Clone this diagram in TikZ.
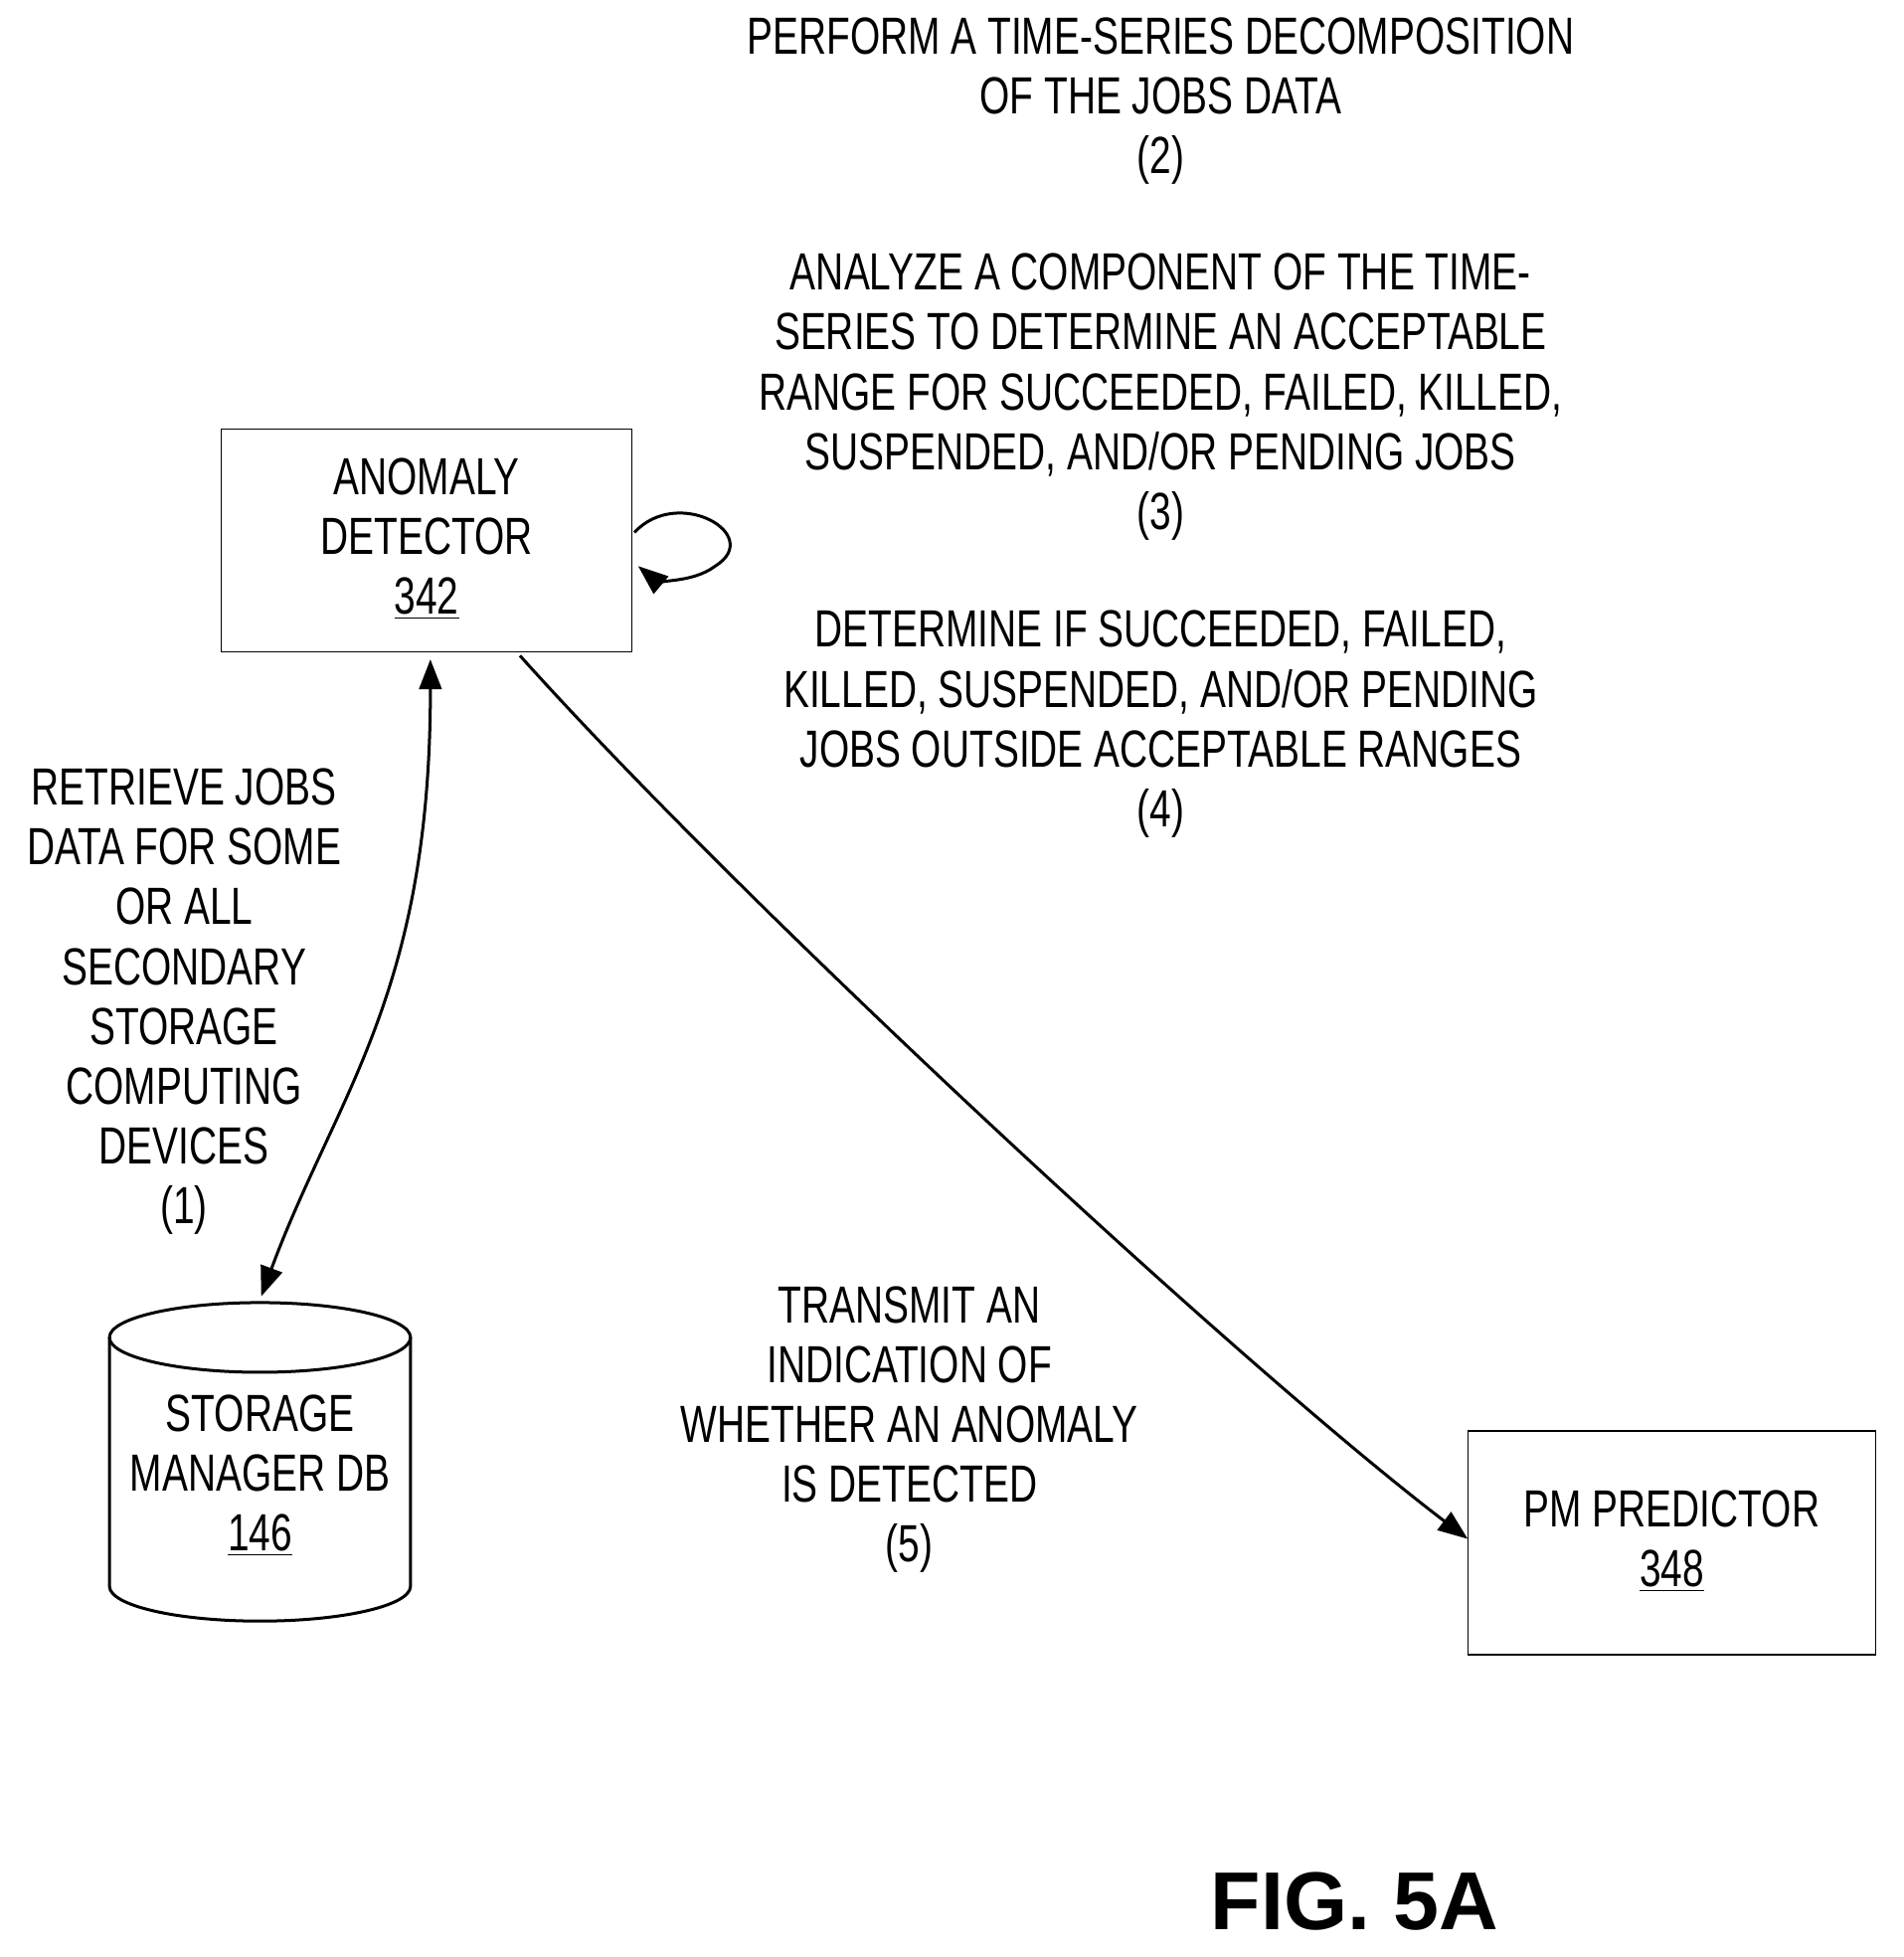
\documentclass[tikz,border=0pt]{standalone}
\usepackage{fontspec}
\setmainfont{Liberation Sans}[FakeStretch=0.74]
\newfontfamily\figfont{Liberation Sans}
\usetikzlibrary{arrows.meta}
\begin{document}
\begin{tikzpicture}[x=0.5pt,y=-0.5pt,
  txt/.style={align=center,font=\fontsize{21}{24}\selectfont,inner sep=0pt},
  box/.style={draw,line width=0.6pt},
  conn/.style={line width=1.2pt,-{Triangle[length=12pt,width=9pt]}}]
\useasboundingbox (0,0) rectangle (1530,1573);
% anomaly detector
\draw[box] (178,345) rectangle (508,524);
\node[txt] (ad) at (343,433) {ANOMALY\\DETECTOR\\\underline{342}};
\coordinate (adb) at (346,530);
\coordinate (adr) at (418,527);
\coordinate (l1) at (510,428);
\coordinate (l2) at (513,455);
\draw[conn] (l1) .. controls (545,390) and (615,430) .. (575,455) .. controls (555,470) and (525,465) .. (l2);
% storage manager db
\draw[box,line width=1.2pt] (88,1075) -- (88,1275) arc[start angle=180,end angle=360,x radius=121,y radius=-28] -- (330,1075);
\draw[box,line width=1.2pt] (209,1075) ellipse[x radius=121,y radius=28];
\node[txt] (db) at (209,1186) {STORAGE\\MANAGER DB\\\underline{146}};
\coordinate (dbt) at (210,1042);
\draw[line width=1.2pt,{Triangle[length=12pt,width=9pt]}-{Triangle[length=12pt,width=9pt]}] (adb) .. controls (346,800) and (270,880) .. (dbt);
% pm predictor
\draw[box] (1180,1150) rectangle (1508,1330);
\node[txt] (pm) at (1344,1239) {PM PREDICTOR\\\underline{348}};
\coordinate (pml) at (1180,1237);
\draw[conn] (adr) .. controls (600,730) and (1000,1100) .. (pml);
% labels
\node[txt] (t1) at (148,805) {RETRIEVE JOBS\\DATA FOR SOME\\OR ALL\\SECONDARY\\STORAGE\\COMPUTING\\DEVICES\\(1)};
\node[txt] (t2) at (933,81) {PERFORM A TIME-SERIES DECOMPOSITION\\OF THE JOBS DATA\\(2)};
\node[txt] (t3) at (933,319) {ANALYZE A COMPONENT OF THE TIME-\\SERIES TO DETERMINE AN ACCEPTABLE\\RANGE FOR SUCCEEDED, FAILED, KILLED,\\SUSPENDED, AND/OR PENDING JOBS\\(3)};
\node[txt] (t4) at (933,582) {DETERMINE IF SUCCEEDED, FAILED,\\KILLED, SUSPENDED, AND/OR PENDING\\JOBS OUTSIDE ACCEPTABLE RANGES\\(4)};
\node[txt] (t5) at (731,1149) {TRANSMIT AN\\INDICATION OF\\WHETHER AN ANOMALY\\IS DETECTED\\(5)};
\node[inner sep=0pt,font=\figfont\bfseries\fontsize{33}{36}\selectfont] (fig) at (1089,1528) {FIG. 5A};
\end{tikzpicture}
\end{document}
